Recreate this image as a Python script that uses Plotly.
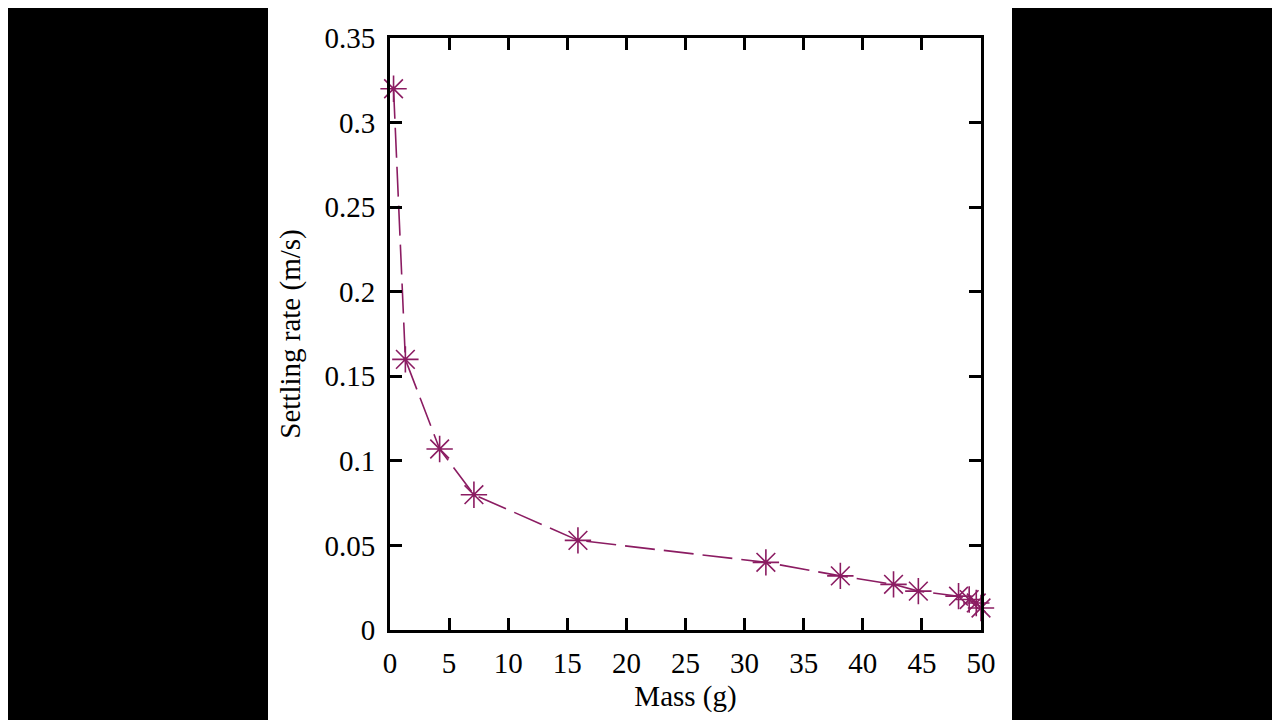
import plotly.graph_objects as go

mass = [0.3, 1.3, 4.2, 7.1, 15.9, 31.8, 38.1, 42.6, 44.7, 48.1, 49.0, 49.6, 50.0]
rate = [0.320, 0.160, 0.107, 0.080, 0.053, 0.040, 0.032, 0.027, 0.023, 0.020, 0.018, 0.016, 0.013]

x_ticks = list(range(0, 51, 5))
y_ticks = [0, 0.05, 0.1, 0.15, 0.2, 0.25, 0.3, 0.35]
y_tick_text = ["0", "0.05", "0.1", "0.15", "0.2", "0.25", "0.3", "0.35"]

color = "#8b1c62"
font = dict(family="Liberation Serif", size=29, color="black")

fig = go.Figure()
fig.add_trace(go.Scatter(
    x=mass, y=rate, mode="lines+markers",
    line=dict(color=color, width=1.6, dash="30px,9px"),
    marker=dict(symbol="asterisk-open", size=22, color=color,
                line=dict(color=color, width=1.6)),
    cliponaxis=False,
))

OFF = 8  # page offset of the figure
L, R, T, B = 390 - OFF, 1280 - 981 + OFF, 38 - OFF, 720 - 630 + OFF
pw, ph = 1280 - L - R, 720 - T - B
fig.add_shape(type="rect", xref="paper", yref="paper",
              x0=(268 - OFF - L) / pw, x1=(1012 - OFF - L) / pw,
              y0=-B / ph - 0.02, y1=(720 - B) / ph + 0.02,
              fillcolor="white", line=dict(width=0), layer="below")

axis_common = dict(showgrid=False, zeroline=False, showline=True, linecolor="black",
                   linewidth=3, mirror="allticks", ticks="inside", ticklen=12,
                   tickwidth=2.5, tickcolor="black", tickfont=font)

fig.update_xaxes(range=[0, 50], tickvals=x_ticks, ticklabelstandoff=5,
                 title=dict(text="Mass (g)", font=font, standoff=8), **axis_common)
fig.update_yaxes(range=[0, 0.35], tickvals=y_ticks, ticktext=y_tick_text,
                 ticklabelstandoff=6,
                 title=dict(text="Settling rate (m/s)", font=font, standoff=16), **axis_common)

fig.update_layout(
    width=1280, height=720,
    margin=dict(l=L, r=R, t=T, b=B),
    paper_bgcolor="black", plot_bgcolor="white",
    showlegend=False, font=font,
)

fig.write_html("out.html")
